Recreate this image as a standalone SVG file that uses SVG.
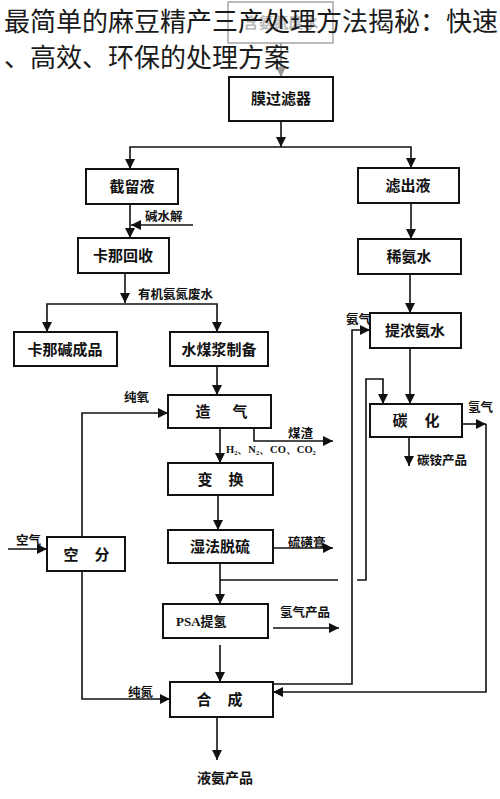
<svg xmlns="http://www.w3.org/2000/svg" width="500" height="799" viewBox="0 0 500 799">
<style>
.box{fill:#fff;stroke:#111;stroke-width:2}
.bt{font-family:"Noto Sans CJK SC","Noto Sans",sans-serif;font-weight:bold;font-size:15px;fill:#111;text-anchor:middle}
.lb{font-family:"Noto Sans CJK SC","Noto Sans",sans-serif;font-weight:bold;font-size:12.5px;fill:#111}
.ln{fill:none;stroke:#111;stroke-width:1.6}
.title{font-family:"Noto Sans CJK SC","Noto Sans",sans-serif;font-size:26px;fill:#1a1a1a}
</style>
<defs>
<marker id="ah" markerUnits="userSpaceOnUse" markerWidth="12" markerHeight="10" refX="10" refY="5" orient="auto">
<path d="M0,0 L10,5 L0,10 Z" fill="#111"/>
</marker>
<marker id="ag" markerUnits="userSpaceOnUse" markerWidth="12" markerHeight="10" refX="10" refY="5" orient="auto">
<path d="M0,0 L10,5 L0,10 Z" fill="#999"/>
</marker>
</defs>
<rect width="500" height="799" fill="#fff"/>

<g id="n-feed">
<rect x="228" y="2" width="105" height="41" fill="#fff" stroke="#aaa" stroke-width="1.6"/>
<text x="281" y="28" class="bt" style="fill:#bbb">含氨氮废水</text>
</g>

<g id="connectors">
<path class="ln" d="M281,43 V77" style="stroke:#999" marker-end="url(#ag)"/>
<path class="ln" d="M281,121 V147" marker-end="url(#ah)"/>
<path class="ln" d="M281,147 H130 V169" marker-end="url(#ah)"/>
<path class="ln" d="M281,147 H411 V168" marker-end="url(#ah)"/>
<path class="ln" d="M130,204 V238" marker-end="url(#ah)"/>
<path class="ln" d="M193,225 H131" marker-end="url(#ah)"/>
<path class="ln" d="M411,203 V239" marker-end="url(#ah)"/>
<path class="ln" d="M125,273 V303" marker-end="url(#ah)"/>
<path class="ln" d="M125,304 H47 V332" marker-end="url(#ah)"/>
<path class="ln" d="M125,304 H217 V332" marker-end="url(#ah)"/>
<path class="ln" d="M217,366 V395" marker-end="url(#ah)"/>
<path class="ln" d="M82,537 V413 H168" marker-end="url(#ah)"/>
<path class="ln" d="M220,428 V463" marker-end="url(#ah)"/>
<path class="ln" d="M254,428 V441 H333" marker-end="url(#ah)"/>
<path class="ln" d="M218,495 V530" marker-end="url(#ah)"/>
<path class="ln" d="M267,548 H333" marker-end="url(#ah)"/>
<path class="ln" d="M220,563 V604" marker-end="url(#ah)"/>
<path class="ln" d="M220,580 H338"/>
<path class="ln" d="M357,580 H366 V379 H383 V404" marker-end="url(#ah)"/>
<path class="ln" d="M273,628 H339" marker-end="url(#ah)"/>
<path class="ln" d="M220,645 V682" marker-end="url(#ah)"/>
<path class="ln" d="M82,571 V699 H170" marker-end="url(#ah)"/>
<path class="ln" d="M217,717 V760" marker-end="url(#ah)"/>
<path class="ln" d="M273,684 H352 V330 H370" marker-end="url(#ah)"/>
<path class="ln" d="M410,274 V313" marker-end="url(#ah)"/>
<path class="ln" d="M410,348 V404" marker-end="url(#ah)"/>
<path class="ln" d="M409,437 V466" marker-end="url(#ah)"/>
<path class="ln" d="M462,424 H486" marker-end="url(#ah)"/>
<path class="ln" d="M486,424 V692 H273" marker-end="url(#ah)"/>
<path class="ln" d="M8,549 H47" marker-end="url(#ah)"/>
</g>

<g id="labels">
<text x="145" y="221" class="lb">碱水解</text>
<text x="138" y="299" class="lb">有机氨氮废水</text>
<text x="124" y="402" class="lb">纯氧</text>
<text x="346" y="324" class="lb">氨气</text>
<text x="468" y="412" class="lb">氢气</text>
<text x="288" y="438" class="lb">煤渣</text>
<text x="226" y="453" style="font-family:'Liberation Serif',serif;font-weight:bold;font-size:10.5px;fill:#111">H₂、N₂、CO、CO₂</text>
<text x="417" y="465" class="lb">碳铵产品</text>
<text x="288" y="547" class="lb">硫磺膏</text>
<text x="16" y="545" class="lb">空气</text>
<text x="280" y="617" class="lb">氢气产品</text>
<text x="128" y="697" class="lb">纯氮</text>
<text x="225" y="783" class="bt" style="font-size:14px">液氨产品</text>
</g>

<g id="n-membrane"><rect x="229" y="77" width="104" height="44" class="box" stroke-width="2.5"/><text x="281" y="104" class="bt">膜过滤器</text></g>
<g id="n-retentate"><rect x="86" y="169" width="92" height="35" class="box"/><text x="132" y="192" class="bt">截留液</text></g>
<g id="n-filtrate"><rect x="358" y="168" width="101" height="35" class="box"/><text x="408" y="191" class="bt">滤出液</text></g>
<g id="n-kana-recover"><rect x="78" y="238" width="91" height="35" class="box"/><text x="123" y="261" class="bt">卡那回收</text></g>
<g id="n-dilute"><rect x="358" y="239" width="103" height="35" class="box"/><text x="409" y="262" class="bt">稀氨水</text></g>
<g id="n-kana-product"><rect x="14" y="332" width="103" height="34" class="box"/><text x="65" y="355" class="bt">卡那碱成品</text></g>
<g id="n-slurry"><rect x="170" y="332" width="98" height="34" class="box"/><text x="219" y="355" class="bt">水煤浆制备</text></g>
<g id="n-concentrate"><rect x="370" y="313" width="91" height="35" class="box"/><text x="415" y="336" class="bt">提浓氨水</text></g>
<g id="n-gasify"><rect x="168" y="395" width="103" height="33" class="box"/><text class="bt"><tspan x="203" y="417">造</tspan><tspan x="240" y="417">气</tspan></text></g>
<g id="n-carbonize"><rect x="370" y="404" width="92" height="33" class="box"/><text class="bt"><tspan x="400" y="426">碳</tspan><tspan x="432" y="426">化</tspan></text></g>
<g id="n-shift"><rect x="168" y="463" width="105" height="32" class="box"/><text class="bt"><tspan x="205" y="485">变</tspan><tspan x="236" y="485">换</tspan></text></g>
<g id="n-air-sep"><rect x="47" y="537" width="78" height="34" class="box"/><text class="bt"><tspan x="71" y="560">空</tspan><tspan x="102" y="560">分</tspan></text></g>
<g id="n-desulf"><rect x="168" y="530" width="105" height="33" class="box"/><text x="220" y="552" class="bt">湿法脱硫</text></g>
<g id="n-psa"><rect x="163" y="604" width="105" height="34" class="box"/><text x="176" y="626" class="bt" style="text-anchor:start;font-size:13px"><tspan style="font-family:'Liberation Serif',serif">PSA</tspan>提氢</text></g>
<g id="n-synth"><rect x="170" y="682" width="103" height="35" class="box"/><text class="bt"><tspan x="204" y="705">合</tspan><tspan x="235" y="705">成</tspan></text></g>

<g id="title">
<text x="4" y="31" class="title">最简单的麻豆精产三产处理方法揭秘：快速</text>
<text x="4" y="67" class="title">、高效、环保的处理方案</text>
</g>
</svg>
